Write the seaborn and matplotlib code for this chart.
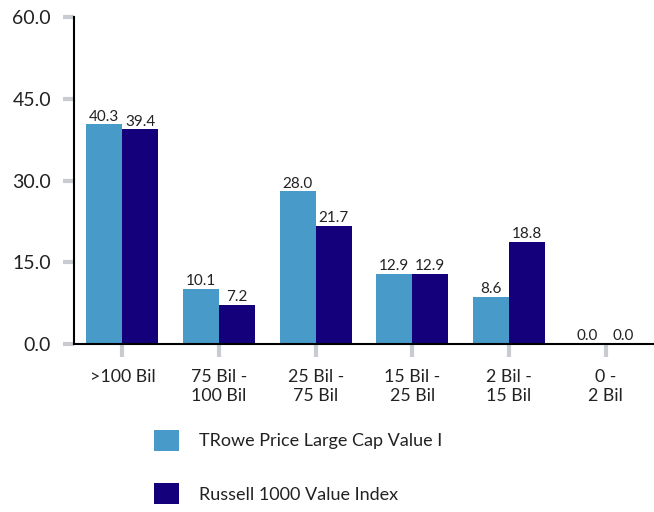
import matplotlib
matplotlib.use("Agg")
import matplotlib.pyplot as plt
import seaborn as sns
import pandas as pd
from matplotlib.patches import Patch

categories = [">100 Bil", "75 Bil -\n100 Bil", "25 Bil -\n75 Bil", "15 Bil -\n25 Bil", "2 Bil -\n15 Bil", "0 -\n2 Bil"]
fund_name = "TRowe Price Large Cap Value I"
index_name = "Russell 1000 Value Index"
fund_values = [40.3, 10.1, 28.0, 12.9, 8.6, 0.0]
index_values = [39.4, 7.2, 21.7, 12.9, 18.8, 0.0]
y_ticks = [0, 15, 30, 45, 60]

colors = ["#489AC8", "#13007A"]

sns.set_theme(style="white")
plt.rcParams['font.family'] = ['Lato', 'DejaVu Sans']

df = pd.DataFrame({
    "cat": categories * 2,
    "val": fund_values + index_values,
    "series": [fund_name] * len(categories) + [index_name] * len(categories),
})

fig = plt.figure(figsize=(6.54, 5.12), dpi=100)
ax = fig.add_axes([74 / 654, 168 / 512, 580 / 654, 327 / 512])
sns.barplot(data=df, x="cat", y="val", hue="series", palette=colors, width=0.745,
            ax=ax, legend=False, saturation=1, edgecolor="none", linewidth=0)

for c in ax.containers:
    ax.bar_label(c, fmt="%.1f", padding=0.5, fontsize=11, color="#222222")

ax.set_xlim(-0.5, 5.5)
ax.set_ylim(0, 60)
ax.set_yticks(y_ticks)
ax.set_yticklabels([f"{v:.1f}" for v in y_ticks], fontsize=14, color="#222222")
ax.set_xticks(range(len(categories)))
ax.set_xticklabels(categories, fontsize=12.8, color="#222222", linespacing=1.25)
ax.set_xlabel("")
ax.set_ylabel("")
for s in ["top", "right"]:
    ax.spines[s].set_visible(False)
for s in ["left", "bottom"]:
    ax.spines[s].set_color("black")
    ax.spines[s].set_linewidth(1.5)
ax.tick_params(axis="y", which="major", direction="out", length=8, width=3, color="#C8CCD0", pad=8.5, left=True)
ax.tick_params(axis="x", which="major", direction="out", length=9, width=3, color="#C8CCD0", pad=9, bottom=True)
ax.grid(False)

handles = [Patch(facecolor=colors[0], edgecolor="none"), Patch(facecolor=colors[1], edgecolor="none")]
fig.legend(handles, [fund_name, index_name], loc="upper left", bbox_to_anchor=(145 / 654, 1 - 421 / 512),
           frameon=False, fontsize=13, handlelength=1.4, handleheight=1.4, labelspacing=1.8,
           handletextpad=1.1, labelcolor="#222222", borderaxespad=0, borderpad=0.5)

fig.savefig("out.png", dpi=100)
